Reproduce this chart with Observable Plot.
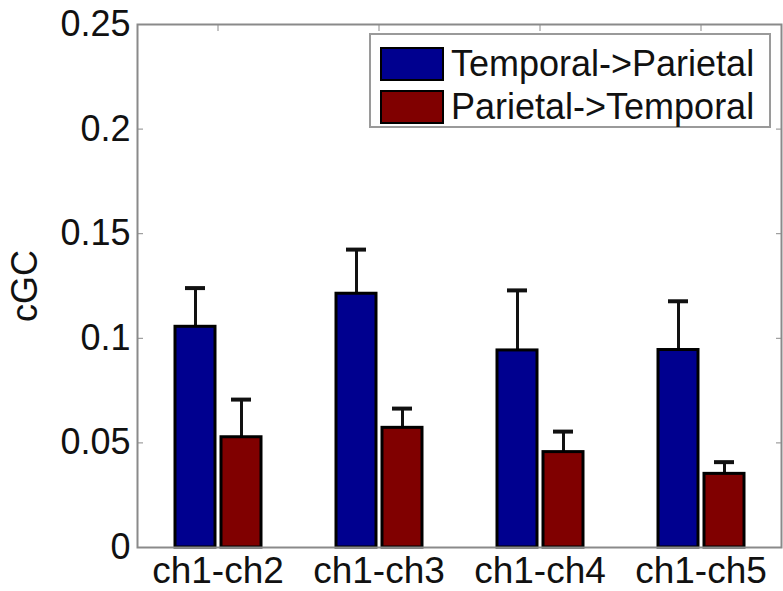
<!DOCTYPE html>
<html>
<head>
<meta charset="utf-8">
<script src="https://cdn.jsdelivr.net/npm/d3@7"></script>
<script src="https://cdn.jsdelivr.net/npm/@observablehq/plot@0.6"></script>
<style>
  html, body { margin: 0; padding: 0; background: #fff; }
  #wrap { position: relative; width: 783px; height: 591px; font-family: "Liberation Sans", Arial, sans-serif; }
  #legend { position: absolute; left: 369px; top: 33px; width: 398px; height: 91px;
            border: 2px solid #9a9a9a; background: #fff; box-sizing: content-box; }
  .row { position: absolute; left: 9px; display: flex; align-items: center; font-size: 36px; color: #111; }
  .sw { width: 60px; height: 30px; border: 2.5px solid #000; margin-right: 7px; }
</style>
</head>
<body>
<div id="wrap"></div>
<script>
const categories = ["ch1-ch2", "ch1-ch3", "ch1-ch4", "ch1-ch5"];
const seriesNames = ["Temporal->Parietal", "Parietal->Temporal"];
const seriesColors = ["#00008f", "#800000"];
const temporalToParietal = [0.1055, 0.1213, 0.0942, 0.0944];
const temporalToParietalErr = [0.0185, 0.0211, 0.0287, 0.0233];
const parietalToTemporal = [0.0527, 0.0572, 0.0456, 0.0352];
const parietalToTemporalErr = [0.0180, 0.0092, 0.0098, 0.0056];
const yTicks = [0, 0.05, 0.1, 0.15, 0.2, 0.25];
const yLabel = "cGC";

const rows = [];
categories.forEach((c, i) => {
  rows.push({cat: c, series: seriesNames[0], mean: temporalToParietal[i], upper: temporalToParietal[i] + temporalToParietalErr[i]});
  rows.push({cat: c, series: seriesNames[1], mean: parietalToTemporal[i], upper: parietalToTemporal[i] + parietalToTemporalErr[i]});
});

const plot = Plot.plot({
  width: 783,
  height: 591,
  marginLeft: 137,
  marginRight: 2,
  marginTop: 24,
  marginBottom: 44,
  style: {fontFamily: "'Liberation Sans', Arial, sans-serif", fontSize: "36px", background: "#fff"},
  fx: {domain: categories, padding: 0},
  x: {domain: seriesNames, paddingInner: 0.14, paddingOuter: 0.82, axis: null},
  y: {domain: [0, 0.25]},
  color: {domain: seriesNames, range: seriesColors},
  marks: [
    Plot.ruleX(rows, {fx: "cat", x: "series", y1: "mean", y2: "upper", stroke: "#111", strokeWidth: 3}),
    Plot.barY(rows, {fx: "cat", x: "series", y: "mean", fill: "series", stroke: "#000", strokeWidth: 3}),
    Plot.tickY(rows, {fx: "cat", x: "series", y: "upper", stroke: "#111", strokeWidth: 4, insetLeft: 10, insetRight: 10}),
    Plot.frame({facet: "super", stroke: "#8a8a8a", strokeWidth: 2}),
    Plot.axisY({anchor: "left", ticks: yTicks, tickSize: -6, tickPadding: 13, stroke: "#8a8a8a", fill: "#111",
      fontSize: 36, tickFormat: d => String(d), label: yLabel, labelAnchor: "center", labelOffset: 126, labelArrow: "none"}),
    Plot.axisY({anchor: "right", ticks: yTicks, tickSize: -6, stroke: "#8a8a8a", fill: "none", label: null}),
    Plot.axisFx({anchor: "bottom", tickSize: 0, tickPadding: 9, fontSize: 37, fill: "#111", label: null}),
    Plot.axisFx({anchor: "top", tickSize: -6, stroke: "#8a8a8a", fill: "none", label: null})
  ]
});

const wrap = document.getElementById("wrap");
wrap.appendChild(plot);

const legend = document.createElement("div");
legend.id = "legend";
seriesNames.forEach((name, i) => {
  const row = document.createElement("div");
  row.className = "row";
  row.style.top = (i === 0 ? 8 : 51) + "px";
  const sw = document.createElement("div");
  sw.className = "sw";
  sw.style.background = seriesColors[i];
  const t = document.createElement("span");
  t.textContent = name;
  row.appendChild(sw);
  row.appendChild(t);
  legend.appendChild(row);
});
wrap.appendChild(legend);
</script>
</body>
</html>
